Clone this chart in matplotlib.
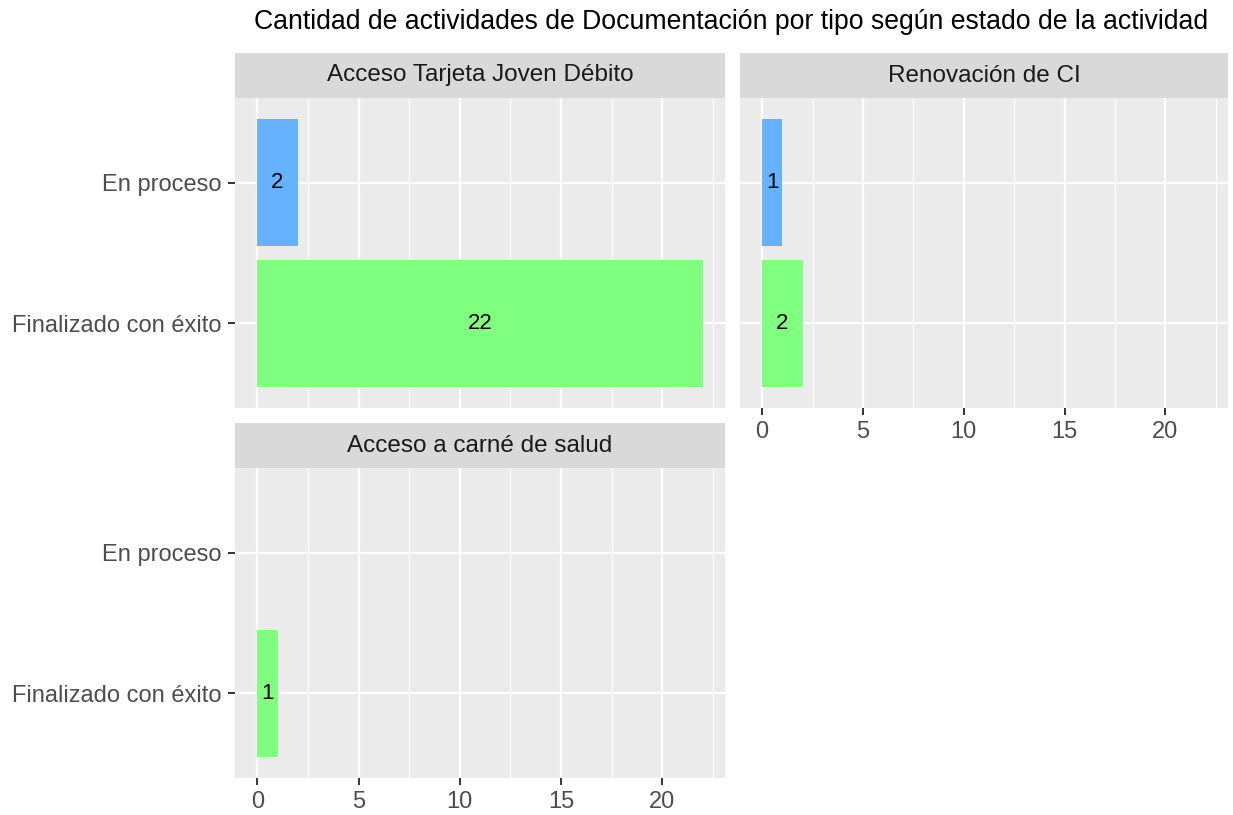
import matplotlib.pyplot as plt
from matplotlib.ticker import MultipleLocator

plt.rcParams['font.family'] = ['Liberation Sans', 'DejaVu Sans']

# data
tipos = ["Acceso Tarjeta Joven Débito", "Renovación de CI", "Acceso a carné de salud"]
estados = ["Finalizado con éxito", "En proceso"]  # bottom to top
finalizado = [22, 2, 1]
en_proceso = [2, 1, None]
colores = {"En proceso": "#66B2FF", "Finalizado con éxito": "#80FF80"}

fig = plt.figure(figsize=(12.33, 8.15), dpi=100)
W, H = 1233, 815


def box(l, t, r, b):
    return [l / W, 1 - b / H, (r - l) / W, (b - t) / H]


panels = [
    dict(panel=(235, 98, 725, 408), strip=(235, 53, 725, 98), ylab=True, xlab=False),
    dict(panel=(740, 98, 1228, 408), strip=(740, 53, 1228, 98), ylab=False, xlab=True),
    dict(panel=(235, 468, 725, 778), strip=(235, 423, 725, 468), ylab=True, xlab=True),
]

for i, p in enumerate(panels):
    ax = fig.add_axes(box(*p["panel"]))
    ax.set_facecolor("#EBEBEB")
    for s in ax.spines.values():
        s.set_visible(False)
    ax.set_xlim(-1.1, 23.1)
    ax.set_ylim(0.4, 2.6)
    ax.xaxis.set_major_locator(MultipleLocator(5))
    ax.xaxis.set_minor_locator(MultipleLocator(2.5))
    ax.set_yticks([1, 2])
    ax.grid(which="major", color="white", linewidth=1.6)
    ax.grid(which="minor", axis="x", color="white", linewidth=0.8)
    ax.set_axisbelow(True)

    vals = {"Finalizado con éxito": finalizado[i], "En proceso": en_proceso[i]}
    for j, est in enumerate(estados):
        v = vals[est]
        if v is None:
            continue
        ax.barh(j + 1, v, height=0.9, color=colores[est], zorder=2)
        ax.text(v / 2, j + 1, str(v), ha="center", va="center", fontsize=16,
                color="black", zorder=3)

    ax.tick_params(which="minor", length=0)
    ax.tick_params(axis="both", which="major", length=5, width=1.4, color="#333333",
                   labelsize=17, labelcolor="#4D4D4D", pad=4.5)
    if p["ylab"]:
        ax.set_yticklabels(estados)
    else:
        ax.tick_params(axis="y", length=0, labelleft=False)
    if not p["xlab"]:
        ax.tick_params(axis="x", length=0, labelbottom=False)

    sax = fig.add_axes(box(*p["strip"]))
    sax.set_facecolor("#D9D9D9")
    sax.set_xticks([])
    sax.set_yticks([])
    for s in sax.spines.values():
        s.set_visible(False)
    sax.text(0.5, 0.5, tipos[i], ha="center", va="center", fontsize=17.5,
             color="#1A1A1A", transform=sax.transAxes)

fig.text(731 / W, 1 - 22 / H, "Cantidad de actividades de Documentación por tipo según estado de la actividad",
         ha="center", va="center", fontsize=19.2, color="black")

fig.savefig("out.png", dpi=100)
